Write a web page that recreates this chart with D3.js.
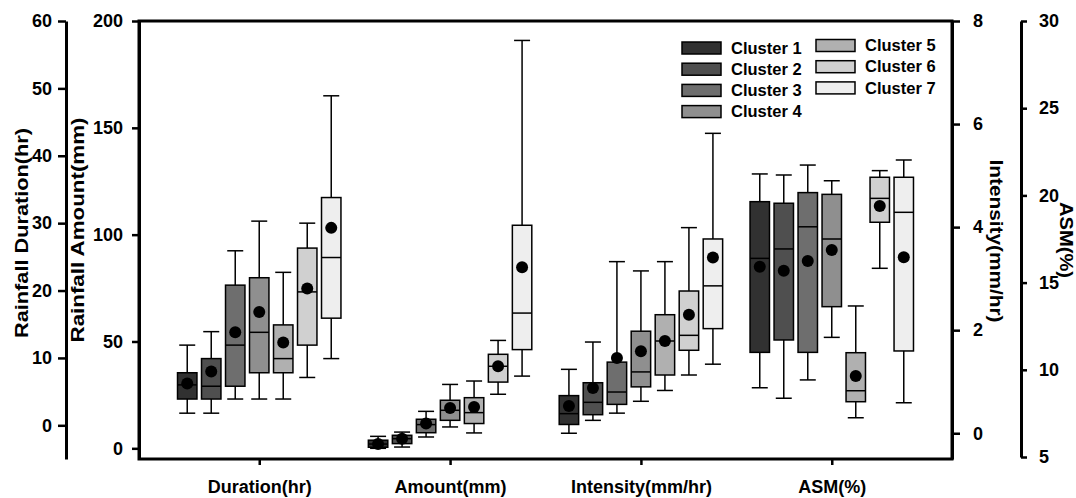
<!DOCTYPE html>
<html>
<head>
<meta charset="utf-8">
<script src="https://cdn.jsdelivr.net/npm/d3@7"></script>
<style>
  body { margin: 0; background: #fff; }
  svg text { font-family: "Liberation Sans", Arial, sans-serif; font-weight: bold; fill: #000; }
</style>
</head>
<body>
<svg id="chart" width="1076" height="498"></svg>
<script>
const clusters = ['Cluster 1', 'Cluster 2', 'Cluster 3', 'Cluster 4', 'Cluster 5', 'Cluster 6', 'Cluster 7'];
const metrics = ['Duration(hr)', 'Amount(mm)', 'Intensity(mm/hr)', 'ASM(%)'];
const fills = ['#313131', '#4f4f4f', '#6e6e6e', '#8f8f8f', '#b0b0b0', '#d0d0d0', '#eeeeee'];

// each row: [whisker low, q1, median, q3, whisker high, mean]
const durationStats = [
    [1.8, 3.9, 6.0, 7.8, 11.9, 6.2],
    [1.8, 3.9, 5.8, 9.9, 13.9, 8.0],
    [3.9, 5.8, 11.9, 20.8, 25.9, 13.8],
    [3.9, 7.8, 13.8, 21.9, 30.3, 16.8],
    [3.9, 7.8, 9.9, 14.9, 22.7, 12.3],
    [7.1, 11.9, 19.8, 26.3, 30.0, 20.3],
    [9.9, 15.9, 24.9, 33.8, 48.9, 29.3]
];
const amountStats = [
    [0.0, 0.5, 2.0, 3.8, 5.6, 2.0],
    [0.6, 2.2, 4.5, 6.1, 7.6, 4.5],
    [5.3, 7.3, 11.1, 13.6, 17.3, 11.6],
    [10.0, 13.1, 17.8, 22.5, 29.9, 18.9],
    [7.2, 11.6, 16.7, 23.7, 31.5, 19.3],
    [25.3, 31.0, 38.4, 44.0, 50.5, 38.4],
    [33.8, 46.2, 63.3, 104.4, 190.9, 84.8]
];
const intensityStats = [
    [0.00, 0.17, 0.38, 0.73, 1.24, 0.53],
    [0.25, 0.36, 0.60, 0.98, 1.77, 0.88],
    [0.39, 0.56, 0.80, 1.38, 3.33, 1.46],
    [0.62, 0.90, 1.19, 1.98, 3.15, 1.59],
    [0.83, 1.13, 1.79, 2.30, 3.33, 1.79],
    [1.13, 1.61, 1.90, 2.76, 3.99, 2.30],
    [1.34, 2.03, 2.86, 3.77, 5.82, 3.41]
];
const asmStats = [
    [8.97, 11.0, 16.39, 19.64, 21.23, 15.91],
    [8.37, 11.71, 16.93, 19.55, 21.17, 15.68],
    [9.42, 11.0, 18.2, 20.16, 21.74, 16.24],
    [11.86, 13.62, 17.5, 20.06, 20.84, 16.87],
    [7.25, 8.17, 8.80, 10.98, 13.66, 9.64],
    [15.82, 18.46, 19.83, 21.04, 21.42, 19.39],
    [8.11, 11.08, 19.03, 21.04, 22.03, 16.45]
];

const durationTicks = [0, 10, 20, 30, 40, 50, 60];
const amountTicks = [0, 50, 100, 150, 200];
const intensityTicks = [0, 2, 4, 6, 8];
const asmTicks = [5, 10, 15, 20, 25, 30];

const svg = d3.select('#chart');
const frame = { left: 139, right: 952, top: 21, bottom: 459 };

// scales
const x = d3.scalePoint().domain(metrics).range([frame.left, frame.right]).padding(0.63);
const xc = d3.scaleBand().domain(clusters).range([-84, 84]).paddingInner(0.19).paddingOuter(0.095);
const color = d3.scaleOrdinal().domain(clusters).range(fills);

const yDur = d3.scaleLinear().domain([-5, 60]).range([frame.bottom, frame.top]);
const yAmt = d3.scaleLinear().domain([-5, 200]).range([frame.bottom, frame.top]);
const yInt = d3.scaleLinear().domain([-0.5, 8]).range([frame.bottom, frame.top]);
const yAsm = d3.scaleLinear().domain([5, 30]).range([457, frame.top]);

const groups = [
    { metric: metrics[0], stats: durationStats, y: yDur },
    { metric: metrics[1], stats: amountStats, y: yAmt },
    { metric: metrics[2], stats: intensityStats, y: yInt },
    { metric: metrics[3], stats: asmStats, y: yAsm }
];

// boxes
const bw = xc.bandwidth();
const capHalf = 8;

groups.forEach(grp => {
    const g = svg.append('g');
    grp.stats.forEach((s, i) => {
        const cx = x(grp.metric) + xc(clusters[i]) + bw / 2;
        const [lo, q1, med, q3, hi, mean] = s;
        const y = grp.y;

        g.append('line')
            .attr('x1', cx).attr('x2', cx)
            .attr('y1', y(hi)).attr('y2', y(lo))
            .attr('stroke', '#000').attr('stroke-width', 1.5);
        [lo, hi].forEach(v => {
            g.append('line')
                .attr('x1', cx - capHalf).attr('x2', cx + capHalf)
                .attr('y1', y(v)).attr('y2', y(v))
                .attr('stroke', '#000').attr('stroke-width', 1.5);
        });
        g.append('rect')
            .attr('x', cx - bw / 2)
            .attr('y', y(q3))
            .attr('width', bw)
            .attr('height', y(q1) - y(q3))
            .attr('fill', color(clusters[i]))
            .attr('stroke', '#000')
            .attr('stroke-width', 1.5);
        g.append('line')
            .attr('x1', cx - bw / 2).attr('x2', cx + bw / 2)
            .attr('y1', y(med)).attr('y2', y(med))
            .attr('stroke', '#000').attr('stroke-width', 1.5);
        g.append('circle')
            .attr('cx', cx).attr('cy', y(mean))
            .attr('r', 6)
            .attr('fill', '#000');
    });
});

// frame
svg.append('rect')
    .attr('x', frame.left).attr('y', frame.top)
    .attr('width', frame.right - frame.left)
    .attr('height', frame.bottom - frame.top)
    .attr('fill', 'none')
    .attr('stroke', '#000')
    .attr('stroke-width', 3);

function styleAxis(sel, fontSize) {
    sel.select('.domain').attr('stroke', '#000').attr('stroke-width', 3);
    sel.selectAll('.tick line').attr('stroke', '#000').attr('stroke-width', 2.5);
    sel.selectAll('.tick text').style('font-size', fontSize + 'px');
}

// left axes
svg.append('g')
    .attr('transform', 'translate(66,0)')
    .call(d3.axisLeft(yDur).tickValues(durationTicks).tickSize(8).tickPadding(6).tickSizeOuter(0))
    .call(sel => styleAxis(sel, 18));

svg.append('g')
    .attr('transform', `translate(${frame.left},0)`)
    .call(d3.axisLeft(yAmt).tickValues(amountTicks).tickSize(7).tickPadding(9).tickSizeOuter(0))
    .call(sel => styleAxis(sel, 18));

// right axes
svg.append('g')
    .attr('transform', `translate(${frame.right},0)`)
    .call(d3.axisRight(yInt).tickValues(intensityTicks).tickSize(8).tickPadding(13).tickSizeOuter(0))
    .call(sel => styleAxis(sel, 18));

svg.append('g')
    .attr('transform', 'translate(1021,0)')
    .call(d3.axisRight(yAsm).tickValues(asmTicks).tickSize(6).tickPadding(12).tickSizeOuter(0))
    .call(sel => styleAxis(sel, 18));

// bottom category axis
svg.append('g')
    .attr('transform', `translate(0,${frame.bottom})`)
    .call(d3.axisBottom(x).tickSize(6).tickPadding(15))
    .call(sel => {
        sel.select('.domain').remove();
        sel.selectAll('.tick line').attr('stroke', '#000').attr('stroke-width', 2.5);
        sel.selectAll('.tick text').style('font-size', '18px');
    });

// axis titles
const titles = [
    { text: 'Rainfall Duration(hr)', x: 28, y: 233, rot: -90, len: 210 },
    { text: 'Rainfall Amount(mm)', x: 84, y: 230, rot: -90, len: 225 },
    { text: 'Intensity(mm/hr)', x: 990, y: 241, rot: 90, len: 163 },
    { text: 'ASM(%)', x: 1060, y: 240, rot: 90, len: 76 }
];
titles.forEach(t => {
    svg.append('text')
        .attr('transform', `translate(${t.x},${t.y}) rotate(${t.rot})`)
        .attr('text-anchor', 'middle')
        .attr('textLength', t.len)
        .attr('lengthAdjust', 'spacingAndGlyphs')
        .style('font-size', '19px')
        .text(t.text);
});

// legend
const legend = svg.append('g');
clusters.forEach((c, i) => {
    const col = i < 4 ? 0 : 1;
    const row = i < 4 ? i : i - 4;
    const lx = col === 0 ? 682 : 816;
    const ly = (col === 0 ? 48 : 45.5) + row * 21.2;
    legend.append('rect')
        .attr('x', lx).attr('y', ly - 6)
        .attr('width', 39).attr('height', 12)
        .attr('fill', color(c))
        .attr('stroke', '#000')
        .attr('stroke-width', 1.5);
    legend.append('text')
        .attr('x', lx + 49).attr('y', ly)
        .attr('dy', '0.35em')
        .style('font-size', '16.5px')
        .text(c);
});
</script>
</body>
</html>
